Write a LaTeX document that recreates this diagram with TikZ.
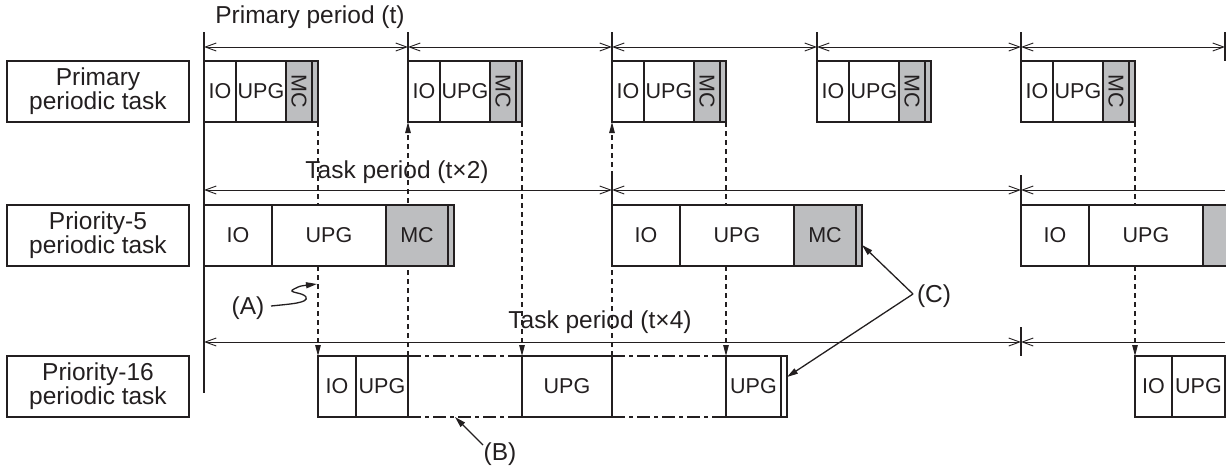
\documentclass[tikz,border=0pt]{standalone}
\usepackage{fontspec}
\setmainfont{Liberation Sans}
\usepackage{graphicx}
\usetikzlibrary{arrows.meta,calc}
\pgfdeclarelayer{bg}
\pgfsetlayers{bg,main}
\definecolor{ink}{HTML}{231F20}
\definecolor{mcgrey}{HTML}{BDBEC0}
\newcommand\mkcell[6]{\node[#6, minimum width={(#3)-(#2)}] (#1) at (#2,#4) {#5};}
\begin{document}
\begin{tikzpicture}[x=1pt,y=-1pt,
  cell/.style={draw=ink, line width=1.6pt, fill=white, inner sep=0pt, outer sep=0pt,
    anchor=north west, minimum height=61pt, font=\fontsize{21.5}{21}\selectfont, text=ink},
  mc/.style={cell, fill=mcgrey},
  lbl/.style={draw=ink, line width=1.6pt, minimum width=182pt, minimum height=61pt,
    align=center, inner sep=0pt, font=\fontsize{24.5}{21.5}\selectfont, text=ink},
  txt/.style={font=\fontsize{24.5}{21.5}\selectfont, text=ink, inner sep=1pt},
  dim/.style={draw=ink, line width=0.9pt, {Straight Barb[length=11pt,width=8pt]}-{Straight Barb[length=11pt,width=8pt]}},
  dimleft/.style={draw=ink, line width=0.9pt, {Straight Barb[length=11pt,width=8pt]}-},
  tickline/.style={draw=ink, line width=1.6pt},
  conn/.style={draw=ink, line width=1.2pt, dash pattern=on 5pt off 4pt, -{Triangle[length=11pt,width=5.5pt]}},
  callout/.style={draw=ink, line width=1.3pt, -{Triangle[length=11pt,width=6pt]}},
  dashdot/.style={draw=ink, line width=1.6pt, dash pattern=on 13pt off 4pt on 4pt off 4pt}]
\useasboundingbox (0,0) rectangle (1232,467);

% row labels
\node[lbl] (lab1) at (98,91.5) {Primary\\periodic task};
\node[lbl] (lab2) at (98,235.5) {Priority-5\\periodic task};
\node[lbl] (lab3) at (98,386.5) {Priority-16\\periodic task};

% primary periodic task
\foreach \k/\s in {1/204,2/408,3/612,4/817,5/1021}{
  \mkcell{pio\k}{\s}{\s+32}{61}{IO}{cell}
  \mkcell{pupg\k}{\s+32}{\s+82}{61}{UPG}{cell}
  \mkcell{pmc\k}{\s+82}{\s+108}{61}{\rotatebox{-90}{MC}}{mc}
  \mkcell{ps\k}{\s+108}{\s+114}{61}{}{mc}
}

% priority-5 periodic task
\foreach \k/\s in {1/204,2/612}{
  \mkcell{qio\k}{\s}{\s+68}{205}{IO}{cell}
  \mkcell{qupg\k}{\s+68}{\s+182}{205}{UPG}{cell}
  \mkcell{qmc\k}{\s+182}{\s+244}{205}{MC}{mc}
  \mkcell{qs\k}{\s+244}{\s+250}{205}{}{mc}
}
\mkcell{qio3}{1021}{1089}{205}{IO}{cell}
\mkcell{qupg3}{1089}{1203}{205}{UPG}{cell}
\begin{scope}
  \clip (1190,190) rectangle (1225.8,280);
  \mkcell{qmc3}{1203}{1265}{205}{}{mc}
\end{scope}

% priority-16 periodic task
\mkcell{rio1}{318}{356}{356}{IO}{cell}
\mkcell{rupg1}{356}{408}{356}{UPG}{cell}
\mkcell{rdd1}{408}{522}{356}{}{cell,draw=none,fill=none}
\mkcell{rupg2}{522}{612}{356}{UPG}{cell}
\mkcell{rdd2}{612}{726}{356}{}{cell,draw=none,fill=none}
\mkcell{rupg3}{726}{781}{356}{UPG}{cell}
\mkcell{rs3}{781}{787}{356}{}{cell}
\mkcell{rio2}{1135}{1172}{356}{IO}{cell}
\mkcell{rupg4}{1172}{1225}{356}{UPG}{cell}
\draw[dashdot] (rdd1.north west) -- (rdd1.north east);
\draw[dashdot] (rdd1.south west) -- (rdd1.south east);
\draw[dashdot] (rdd2.north west) -- (rdd2.north east);
\draw[dashdot] (rdd2.south west) -- (rdd2.south east);
\draw[tickline] (rupg2.north east) -- (rupg2.south east);

% main vertical line and ticks
\coordinate (vtop) at (204,32);
\coordinate (vbot) at (204,393);
\draw[tickline] (vtop) -- (vbot);
\foreach \k/\x in {1/408,2/612,3/817,4/1021,5/1225}{
  \coordinate (ta\k) at (\x,32);
  \coordinate (tb\k) at (\x,61);
  \draw[tickline] (ta\k) -- (tb\k);
}
% primary period dimension
\foreach \k/\x in {0/204,1/408,2/612,3/817,4/1021,5/1225}{
  \coordinate (d\k) at (\x,47);
}
\foreach \a/\b in {d0/d1,d1/d2,d2/d3,d3/d4,d4/d5}{
  \draw[dim] (\a) -- (\b);
}
\node[txt] (ptitle) at (310,17) {Primary period (t)};

% task period t x 2
\coordinate (e0) at (204,190);
\coordinate (e1) at (612,190);
\coordinate (e2) at (1021,190);
\coordinate (e3) at (1225,190);
\draw[tickline] (612,175) -- (qio2.north west);
\draw[tickline] (1021,175) -- (qio3.north west);
\draw[dim] (e0) -- (e1);
\draw[dim] (e1) -- (e2);
\draw[dimleft] (e2) -- (e3);
\node[txt] (t2title) at (397,172) {Task period (t\texttimes 2)};

% task period t x 4
\coordinate (f0) at (204,342);
\coordinate (f1) at (1021,342);
\coordinate (f2) at (1225,342);
\coordinate (fk) at (1021,327);
\coordinate (fl) at (1021,356);
\draw[tickline] (fk) -- (fl);
\draw[dim] (f0) -- (f1);
\draw[dimleft] (f1) -- (f2);
\node[txt] (t4title) at (600,322) {Task period (t\texttimes 4)};

% dashed connectors (behind the boxes)
\begin{pgfonlayer}{bg}
  \draw[conn] (ps1.south east) -- (rio1.north west);
  \draw[conn] (rupg1.north east) -- (pio2.south west);
  \draw[conn] (ps2.south east) -- (rupg2.north west);
  \draw[conn] (rupg2.north east) -- (pio3.south west);
  \draw[conn] (ps3.south east) -- (rupg3.north west);
  \draw[conn] (ps5.south east) -- (rio2.north west);
\end{pgfonlayer}

% callouts
\node[txt] (A) at (248,308) {(A)};
\coordinate (Afrom) at (271,306);
\coordinate (Atip) at (317,284);
\draw[callout] (Afrom) .. controls (290,304) and (309,303) .. (306,297)
  .. controls (303,292) and (286,293) .. (294,289)
  .. controls (300,286) .. (Atip);

\node[txt] (B) at (500,454) {(B)};
\coordinate (Bfrom) at (483,445);
\draw[callout] (Bfrom) -- ([xshift=-10pt]rdd1.south);

\node[txt] (C) at (934,296) {(C)};
\coordinate (Capex) at (913,294);
\draw[callout] (Capex) -- ([yshift=-9.5pt]qs2.east);
\draw[callout] (Capex) -- ([yshift=9.5pt]rs3.east);
\end{tikzpicture}
\end{document}
